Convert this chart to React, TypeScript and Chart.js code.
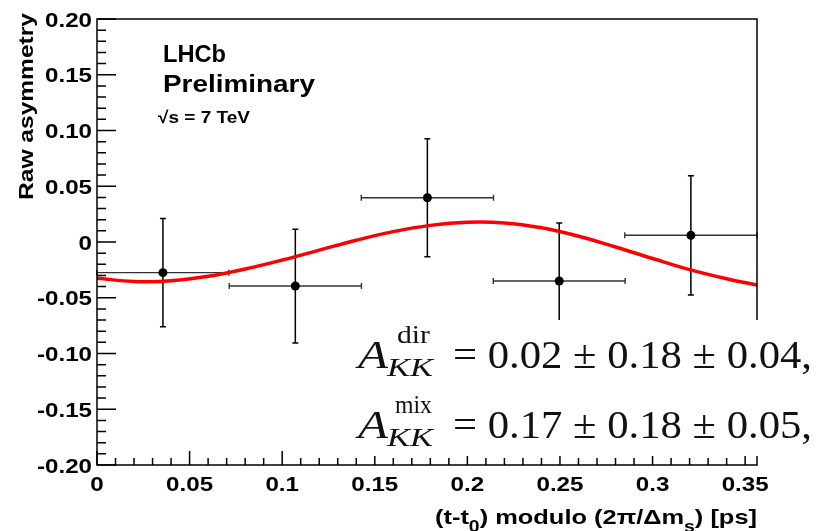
import React, { useEffect, useRef } from "react";
import { Chart, registerables } from "chart.js";

Chart.register(...registerables);

// ---- data ----
const binCenters = [0.0356, 0.1071, 0.1784, 0.2496, 0.3207];
const binHalfWidth = [0.0356, 0.0357, 0.0357, 0.0356, 0.0357];
const asymmetry = [-0.0275, -0.0395, 0.0397, -0.035, 0.006];
const asymError = [0.0485, 0.051, 0.053, 0.052, 0.0535];

const curveX = [0, 0.02, 0.04, 0.06, 0.08, 0.1, 0.12, 0.14, 0.16, 0.18, 0.2, 0.22, 0.24, 0.26, 0.28, 0.3, 0.32, 0.34, 0.3564];
const curveY = [-0.0325, -0.0354, -0.0348, -0.0308, -0.0242, -0.0162, -0.0073, 0.0016, 0.0093, 0.0149, 0.0177, 0.0171, 0.0127, 0.0052, -0.0045, -0.0148, -0.0248, -0.0330, -0.0386];

const xTickValues = [0, 0.05, 0.1, 0.15, 0.2, 0.25, 0.3, 0.35];
const xTickLabels = ["0", "0.05", "0.1", "0.15", "0.2", "0.25", "0.3", "0.35"];
const yTickValues = [0.2, 0.15, 0.1, 0.05, 0, -0.05, -0.1, -0.15, -0.2];
const yTickLabels = ["0.20", "0.15", "0.10", "0.05", "0", "-0.05", "-0.10", "-0.15", "-0.20"];

const X_MAX = 0.3564;
const SANS = '"Liberation Sans", Arial, Helvetica, sans-serif';
const SERIF = '"Liberation Serif", "Times New Roman", serif';

function fitText(
  ctx: CanvasRenderingContext2D,
  text: string,
  x: number,
  y: number,
  font: string,
  opts: { width?: number; sx?: number; align?: "left" | "right" | "center" }
) {
  ctx.font = font;
  const w = ctx.measureText(text).width;
  const s = opts.width ? opts.width / w : opts.sx ?? 1;
  const tw = w * s;
  let left = x;
  if (opts.align === "center") left = x - tw / 2;
  else if (opts.align === "right") left = x - tw;
  ctx.save();
  ctx.translate(left, y);
  ctx.scale(s, 1);
  ctx.textAlign = "left";
  ctx.textBaseline = "alphabetic";
  ctx.fillText(text, 0, 0);
  ctx.restore();
}

const rootPlugin = {
  id: "rootStyle",
  beforeDatasetsDraw(chart: any) {
    const ctx: CanvasRenderingContext2D = chart.ctx;
    const xs = chart.scales.x;
    const ys = chart.scales.y;
    ctx.save();
    for (let i = 0; i < binCenters.length; i++) {
      const cx = xs.getPixelForValue(binCenters[i]);
      const cy = ys.getPixelForValue(asymmetry[i]);
      const x0 = xs.getPixelForValue(Math.max(0, binCenters[i] - binHalfWidth[i]));
      const x1 = xs.getPixelForValue(Math.min(X_MAX, binCenters[i] + binHalfWidth[i]));
      const y0 = ys.getPixelForValue(asymmetry[i] + asymError[i]);
      const y1 = ys.getPixelForValue(asymmetry[i] - asymError[i]);
      ctx.strokeStyle = "#333";
      ctx.lineWidth = 1.4;
      ctx.beginPath();
      ctx.moveTo(x0, cy);
      ctx.lineTo(x1, cy);
      ctx.moveTo(x0, cy - 3);
      ctx.lineTo(x0, cy + 3);
      ctx.moveTo(x1, cy - 3);
      ctx.lineTo(x1, cy + 3);
      ctx.stroke();
      ctx.strokeStyle = "#000";
      ctx.lineWidth = 1.5;
      ctx.beginPath();
      ctx.moveTo(cx, y0);
      ctx.lineTo(cx, y1);
      ctx.moveTo(cx - 3, y0);
      ctx.lineTo(cx + 3, y0);
      ctx.moveTo(cx - 3, y1);
      ctx.lineTo(cx + 3, y1);
      ctx.stroke();
    }
    ctx.restore();
  },
  afterDatasetsDraw(chart: any) {
    const ctx: CanvasRenderingContext2D = chart.ctx;
    const xs = chart.scales.x;
    const ys = chart.scales.y;
    const a = chart.chartArea;
    ctx.save();
    ctx.fillStyle = "#000";
    ctx.strokeStyle = "#000";
    ctx.lineWidth = 1.5;
    ctx.beginPath();
    ctx.rect(a.left, a.top, a.right - a.left, a.bottom - a.top);
    ctx.stroke();
    ctx.beginPath();
    for (let k = -20; k <= 20; k++) {
      const py = ys.getPixelForValue(k / 100);
      const major = k % 5 === 0;
      ctx.moveTo(a.left, py);
      ctx.lineTo(a.left + (major ? 19 : 9), py);
    }
    for (let k = 0; k <= 35; k++) {
      const px = xs.getPixelForValue(k / 100);
      const major = k % 5 === 0;
      ctx.moveTo(px, a.bottom);
      ctx.lineTo(px, a.bottom - (major ? 14 : 7));
    }
    ctx.stroke();

    const tickFont = `bold 21px ${SANS}`;
    yTickValues.forEach((v, i) => {
      const py = ys.getPixelForValue(v);
      fitText(ctx, yTickLabels[i], a.left - 5, py + 7.5, tickFont, { sx: 1.15, align: "right" });
    });
    xTickValues.forEach((v, i) => {
      const px = xs.getPixelForValue(v);
      fitText(ctx, xTickLabels[i], px, a.bottom + 26, tickFont, { sx: 1.15, align: "center" });
    });

    ctx.save();
    ctx.translate(33, 200);
    ctx.rotate(-Math.PI / 2);
    fitText(ctx, "Raw asymmetry", 0, 0, `bold 21px ${SANS}`, { width: 187, align: "left" });
    ctx.restore();

    const pieces = [
      { t: "(t-t", sub: false },
      { t: "0", sub: true },
      { t: ") modulo (2\u03c0/\u0394m", sub: false },
      { t: "s", sub: true },
      { t: ") [ps]", sub: false },
    ];
    const mainF = `bold 21px ${SANS}`;
    const subF = `bold 16px ${SANS}`;
    let total = 0;
    pieces.forEach((p) => {
      ctx.font = p.sub ? subF : mainF;
      total += ctx.measureText(p.t).width;
    });
    const sxT = 322 / total;
    let cx = 435;
    pieces.forEach((p) => {
      ctx.font = p.sub ? subF : mainF;
      const w = ctx.measureText(p.t).width;
      fitText(ctx, p.t, cx, p.sub ? 532 : 524, p.sub ? subF : mainF, { sx: sxT, align: "left" });
      cx += w * sxT;
    });

    fitText(ctx, "LHCb", 163, 62, `bold 23px ${SANS}`, { width: 63, align: "left" });
    fitText(ctx, "Preliminary", 163, 92, `bold 23px ${SANS}`, { width: 152, align: "left" });
    fitText(ctx, "\u221as = 7 TeV", 158, 123, `bold 17px ${SANS}`, { width: 92, align: "left" });

    ctx.fillStyle = "#fff";
    ctx.fillRect(340, 320, 825 - 340, 136);
    ctx.fillStyle = "#111";
    const lines = [
      { sup: "dir", supW: 33, supX: 397, rest: "= 0.02 \u00b1 0.18 \u00b1 0.04,", base: 368 },
      { sup: "mix", supW: 37, supX: 395, rest: "= 0.17 \u00b1 0.18 \u00b1 0.05,", base: 438 },
    ];
    lines.forEach((l) => {
      fitText(ctx, "A", 358, l.base, `italic 40px ${SERIF}`, { width: 30, align: "left" });
      fitText(ctx, l.sup, l.supX, l.base - 25, `26px ${SERIF}`, { width: l.supW, align: "left" });
      fitText(ctx, "KK", 387, l.base + 8, `italic 26px ${SERIF}`, { width: 46, align: "left" });
      fitText(ctx, l.rest, 453, l.base, `40px ${SERIF}`, { width: 359, align: "left" });
    });
    ctx.restore();
  },
};

export default function App() {
  const ref = useRef<HTMLCanvasElement | null>(null);
  useEffect(() => {
    if (!ref.current) return;
    const chart = new Chart(ref.current, {
      type: "scatter",
      data: {
        datasets: [
          {
            label: "fit",
            data: curveX.map((x, i) => ({ x, y: curveY[i] })),
            showLine: true,
            borderColor: "#ff0000",
            backgroundColor: "#ff0000",
            borderWidth: 3.5,
            pointRadius: 0,
            tension: 0.4,
            fill: false,
            order: 0,
          } as any,
          {
            label: "data",
            data: binCenters.map((x, i) => ({ x, y: asymmetry[i] })),
            showLine: false,
            pointRadius: 4.5,
            pointBackgroundColor: "#000",
            pointBorderColor: "#000",
            pointBorderWidth: 0,
            order: 1,
          } as any,
        ],
      },
      options: {
        animation: false,
        responsive: false,
        devicePixelRatio: 1,
        layout: { padding: { left: 0, right: 68, top: 19, bottom: 0 } },
        plugins: { legend: { display: false }, tooltip: { enabled: false } },
        scales: {
          x: {
            type: "linear",
            min: 0,
            max: X_MAX,
            grid: { display: false, drawTicks: false },
            border: { display: false },
            ticks: { display: false },
            afterFit: (s: any) => {
              s.height = 66;
            },
          },
          y: {
            type: "linear",
            min: -0.2,
            max: 0.2,
            grid: { display: false, drawTicks: false },
            border: { display: false },
            ticks: { display: false },
            afterFit: (s: any) => {
              s.width = 97;
            },
          },
        },
      } as any,
      plugins: [rootPlugin],
    });
    return () => chart.destroy();
  }, []);
  return (
    <div style={{ position: "absolute", left: 0, top: 0, width: 825, height: 531, background: "#fff" }}>
      <canvas ref={ref} width={825} height={531} style={{ width: 825, height: 531, display: "block" }} />
    </div>
  );
}
